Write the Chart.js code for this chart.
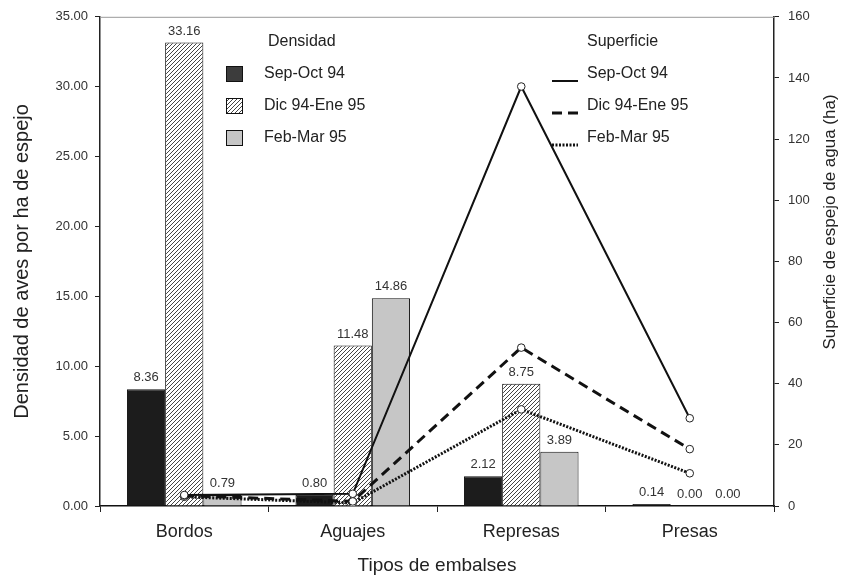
<!DOCTYPE html>
<html>
<head>
<meta charset="utf-8">
<script src="https://cdn.jsdelivr.net/npm/chart.js@4.4.1/dist/chart.umd.min.js"></script>
<style>
    html, body { margin: 0; padding: 0; background: #fff; }
</style>
</head>
<body>
<canvas id="myChart" width="844" height="586"></canvas>
<script>
const categories = ['Bordos', 'Aguajes', 'Represas', 'Presas'];
const periods = ['Sep-Oct 94', 'Dic 94-Ene 95', 'Feb-Mar 95'];

// densidad de aves (eje izquierdo)
const densSepOct = [8.36, 0.80, 2.12, 0.14];
const densDicEne = [33.16, 11.48, 8.75, 0.00];
const densFebMar = [0.79, 14.86, 3.89, 0.00];

// superficie de espejo de agua, ha (eje derecho)
const supSepOct = [3.6, 4.0, 137.2, 28.7];
const supDicEne = [3.4, 1.5, 51.8, 18.6];
const supFebMar = [3.0, 1.0, 31.6, 10.7];

const FONT = 'Liberation Sans, Arial, sans-serif';
const ctx = document.getElementById('myChart');

function makeHatch() {
    const c = document.createElement('canvas');
    c.width = 4;
    c.height = 4;
    const g = c.getContext('2d');
    g.fillStyle = '#fff';
    g.fillRect(0, 0, 4, 4);
    g.strokeStyle = '#444';
    g.lineWidth = 1;
    g.beginPath();
    g.moveTo(-1, 5); g.lineTo(5, -1);
    g.moveTo(-1, 1); g.lineTo(1, -1);
    g.moveTo(3, 5); g.lineTo(5, 3);
    g.stroke();
    return ctx.getContext('2d').createPattern(c, 'repeat');
}
const hatch = makeHatch();

const barLabels = {
    id: 'barLabels',
    afterDatasetsDraw(chart) {
        const c = chart.ctx;
        c.save();
        c.font = '13px ' + FONT;
        c.fillStyle = '#333';
        c.textAlign = 'center';
        c.textBaseline = 'bottom';
        [0, 1, 2].forEach(di => {
            const meta = chart.getDatasetMeta(di);
            meta.data.forEach((el, i) => {
                const v = chart.data.datasets[di].data[i];
                c.fillText(v.toFixed(2), el.x, el.y - 5);
            });
        });
        c.restore();
    }
};

const extras = {
    id: 'extras',
    afterDraw(chart) {
        const c = chart.ctx;
        const a = chart.chartArea;
        c.save();
        // top frame line
        c.strokeStyle = '#999';
        c.lineWidth = 1;
        c.beginPath();
        c.moveTo(a.left, a.top + 0.5);
        c.lineTo(a.right, a.top + 0.5);
        c.stroke();

        // right axis title, reading upward
        c.fillStyle = '#222';
        c.font = '17px ' + FONT;
        c.textAlign = 'center';
        c.textBaseline = 'middle';
        c.translate(830, 222);
        c.rotate(-Math.PI / 2);
        c.fillText('Superficie de espejo de agua (ha)', 0, 0);
        c.restore();

        // legend
        c.save();
        c.font = '16px ' + FONT;
        c.fillStyle = '#222';
        c.textBaseline = 'middle';
        c.textAlign = 'left';
        c.fillText('Densidad', 268, 42);
        c.fillText('Superficie', 587, 42);
        const rows = [74, 106, 138];
        const boxFills = ['#3c3c3c', hatch, '#c6c6c6'];
        const dashes = [[], [10, 6], [2, 1.5]];
        const widths = [2, 3, 3];
        periods.forEach((p, i) => {
            c.fillStyle = boxFills[i];
            c.fillRect(226, rows[i] - 8, 17, 16);
            c.strokeStyle = '#111';
            c.lineWidth = 1;
            c.strokeRect(226.5, rows[i] - 7.5, 16, 15);
            c.fillStyle = '#222';
            c.fillText(p, 264, rows[i]);
            c.fillText(p, 587, rows[i]);
            c.setLineDash(dashes[i]);
            c.lineWidth = widths[i];
            c.beginPath();
            c.moveTo(552, rows[i] + 7);
            c.lineTo(578, rows[i] + 7);
            c.stroke();
            c.setLineDash([]);
        });
        c.restore();
    }
};

const lineStyle = {
    type: 'line',
    yAxisID: 'y2',
    borderColor: '#111',
    pointRadius: 3.8,
    pointBackgroundColor: '#fff',
    pointBorderColor: '#222',
    pointBorderWidth: 1,
    fill: false,
    tension: 0,
    order: 0
};

new Chart(ctx, {
    type: 'bar',
    data: {
        labels: categories,
        datasets: [
            {label: periods[0], data: densSepOct, backgroundColor: '#1c1c1c', borderColor: '#111', borderWidth: 1, yAxisID: 'y', order: 1},
            {label: periods[1], data: densDicEne, backgroundColor: hatch, borderColor: '#111', borderWidth: 1, yAxisID: 'y', order: 1},
            {label: periods[2], data: densFebMar, backgroundColor: '#c6c6c6', borderColor: '#111', borderWidth: 1, yAxisID: 'y', order: 1},
            {...lineStyle, label: periods[0], data: supSepOct, borderWidth: 2},
            {...lineStyle, label: periods[1], data: supDicEne, borderWidth: 3, borderDash: [10, 6]},
            {...lineStyle, label: periods[2], data: supFebMar, borderWidth: 3, borderDash: [2, 1.5]}
        ]
    },
    options: {
        responsive: false,
        animation: false,
        layout: {padding: {top: 13, left: 0, right: 0, bottom: 0}},
        datasets: {bar: {categoryPercentage: 0.68, barPercentage: 1.0}},
        plugins: {legend: {display: false}, tooltip: {enabled: false}},
        scales: {
            x: {
                offset: true,
                grid: {offset: true, drawOnChartArea: false, tickLength: 6, color: '#222'},
                border: {color: '#111', width: 1.5},
                ticks: {font: {family: FONT, size: 18}, color: '#222', padding: 9},
                title: {display: true, text: 'Tipos de embalses', font: {family: FONT, size: 19}, color: '#222', padding: {top: 4, bottom: 9}},
                afterFit(scale) { scale.height = 80; }
            },
            y: {
                position: 'left',
                min: 0,
                max: 35,
                ticks: {stepSize: 5, font: {family: FONT, size: 13}, color: '#333', padding: 7, callback: v => v.toFixed(2)},
                grid: {drawOnChartArea: false, tickLength: 5, color: '#222'},
                border: {color: '#222', width: 1.5},
                title: {display: true, text: 'Densidad de aves por ha de espejo', font: {family: FONT, size: 20}, color: '#222', padding: {top: 10, bottom: 0}},
                afterFit(scale) { scale.width = 100; }
            },
            y2: {
                position: 'right',
                min: 0,
                max: 160,
                ticks: {stepSize: 20, font: {family: FONT, size: 13}, color: '#333', padding: 9},
                grid: {drawOnChartArea: false, tickLength: 5, color: '#222'},
                border: {color: '#222', width: 1.5},
                afterFit(scale) { scale.width = 70; }
            }
        }
    },
    plugins: [barLabels, extras]
});
</script>
</body>
</html>
